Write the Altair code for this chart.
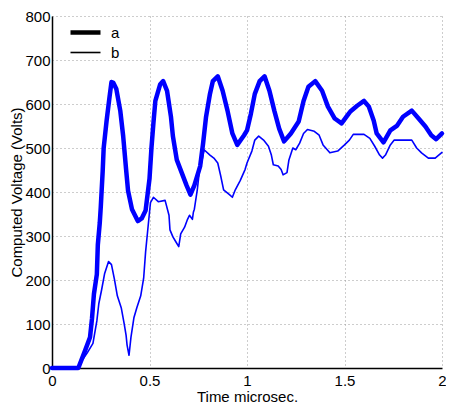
import altair as alt
import pandas as pd

# Series a (thick)
a_x = [0, 0.135, 0.17, 0.195, 0.205, 0.215, 0.23, 0.235, 0.245, 0.25, 0.26, 0.265, 0.28, 0.295, 0.305, 0.315,
       0.33, 0.35, 0.365, 0.38, 0.39, 0.41, 0.44, 0.46, 0.48, 0.5, 0.51, 0.52, 0.53, 0.555, 0.57, 0.59, 0.61,
       0.62, 0.64, 0.665, 0.69, 0.71, 0.73, 0.76, 0.775, 0.79, 0.81, 0.825, 0.85, 0.875, 0.9, 0.925, 0.95,
       0.985, 1.0, 1.02, 1.04, 1.065, 1.09, 1.115, 1.14, 1.165, 1.19, 1.225, 1.265, 1.29, 1.315, 1.35, 1.385,
       1.415, 1.45, 1.485, 1.515, 1.53, 1.565, 1.6, 1.625, 1.65, 1.665, 1.7, 1.735, 1.77, 1.8, 1.845, 1.88,
       1.915, 1.945, 1.97, 2.0]
a_y = [0, 0, 40, 70, 112, 168, 213, 280, 330, 365, 448, 500, 562, 616, 650, 648,
       634, 585, 527, 451, 403, 361, 334, 340, 358, 430, 500, 556, 607, 645, 652, 630, 571,
       527, 473, 444, 415, 394, 415, 459, 511, 571, 623, 652, 663, 630, 585, 533, 507,
       529, 540, 578, 623, 652, 663, 630, 585, 544, 515, 533, 560, 607, 639, 652, 630,
       594, 567, 556, 574, 583, 596, 607, 594, 562, 533, 513, 540, 551, 571, 585, 567,
       549, 529, 520, 533]

# Series b (thin)
b_x = [0, 0.135, 0.145, 0.18, 0.21, 0.23, 0.24, 0.255, 0.27, 0.29, 0.305, 0.32, 0.335, 0.355, 0.37, 0.38,
       0.385, 0.395, 0.405, 0.42, 0.435, 0.455, 0.47, 0.48, 0.49, 0.5, 0.505, 0.52, 0.545, 0.58, 0.6, 0.605,
       0.62, 0.635, 0.65, 0.66, 0.68, 0.695, 0.705, 0.72, 0.725, 0.73, 0.745, 0.755, 0.77, 0.78, 0.81, 0.83,
       0.85, 0.865, 0.88, 0.91, 0.925, 0.94, 0.965, 0.99, 1.0, 1.025, 1.04, 1.06, 1.085, 1.11, 1.125, 1.135,
       1.16, 1.175, 1.185, 1.205, 1.215, 1.235, 1.25, 1.27, 1.29, 1.31, 1.345, 1.37, 1.39, 1.425, 1.465,
       1.5, 1.525, 1.545, 1.6, 1.63, 1.655, 1.68, 1.695, 1.71, 1.735, 1.755, 1.845, 1.87, 1.895, 1.93,
       1.965, 2.0]
b_y = [0, 0, 11, 34, 56, 107, 146, 179, 215, 242, 235, 202, 164, 137, 101, 74,
       52, 29, 70, 114, 137, 164, 204, 264, 309, 354, 376, 388, 378, 381, 347, 314,
       298, 287, 276, 305, 320, 338, 347, 338, 354, 361, 405, 444, 473, 496, 484, 477,
       466, 437, 405, 394, 388, 405, 426, 451, 466, 493, 518, 527, 518, 504, 484, 462,
       459, 451, 439, 444, 473, 500, 496, 511, 533, 542, 538, 529, 507, 489, 493,
       507, 518, 531, 531, 522, 504, 484, 477, 484, 507, 518, 518, 500, 489, 477,
       477, 490]

series_names = ["a", "b"]
x_ticks = [0, 0.5, 1, 1.5, 2]
y_ticks = [0, 100, 200, 300, 400, 500, 600, 700, 800]

rows = []
for i, (xs, ys) in enumerate([(a_x, a_y), (b_x, b_y)]):
    for k, (x, y) in enumerate(zip(xs, ys)):
        rows.append({"t": x, "v": y, "series": series_names[i], "order": k})
df = pd.DataFrame(rows)

FONT = "Liberation Sans"

chart = alt.Chart(df).mark_line(color="#0000ff", strokeJoin="round", strokeCap="round").encode(
    x=alt.X("t:Q", title="Time microsec.",
            scale=alt.Scale(domain=[0, 2], nice=False),
            axis=alt.Axis(values=x_ticks, format="~g", labelPadding=5, titlePadding=1,
                          ticks=False, labelFlush=False)),
    y=alt.Y("v:Q", title="Computed Voltage (Volts)",
            scale=alt.Scale(domain=[0, 800], nice=False),
            axis=alt.Axis(values=y_ticks, labelPadding=2, titlePadding=0, ticks=False,
                          labelFlush=False)),
    strokeWidth=alt.StrokeWidth("series:N",
                                scale=alt.Scale(domain=series_names, range=[4.5, 1.6]),
                                legend=alt.Legend(orient="none", legendX=26, legendY=9, title=None,
                                                  symbolType="M-3,0H3", symbolSize=100,
                                                  symbolStrokeColor="black", labelOffset=18,
                                                  labelFontSize=15, labelFont=FONT, rowPadding=3,
                                                  padding=0, labelColor="black")),
    detail="series:N",
    order="order:Q",
).properties(
    width=390, height=352,
    autosize=alt.AutoSizeParams(type="none"),
    padding={"left": 44, "top": 8, "right": 4, "bottom": 36},
).configure_view(stroke=None).configure_axis(
    domainColor="black", domainWidth=1.5,
    labelFont=FONT, labelFontSize=15, labelColor="black",
    titleFont=FONT, titleFontSize=15, titleFontWeight="normal", titleColor="black",
    grid=True, gridColor="#9a9a9a", gridDash=[1, 3], gridWidth=1,
)

chart.save("out.html", embed_options={"renderer": "svg", "actions": False})
